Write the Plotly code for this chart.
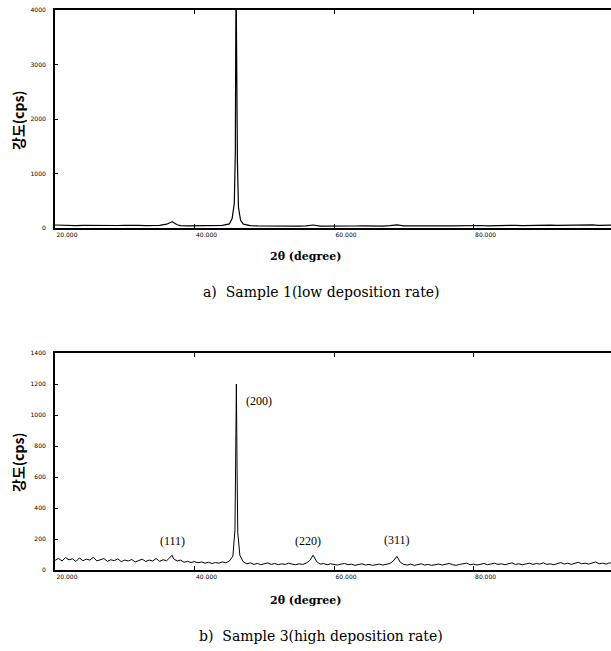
import plotly.graph_objects as go
from plotly.subplots import make_subplots

# ---------------- data ----------------
x_tick_vals = [20, 40, 60, 80]
x_tick_text = ["20.000", "40.000", "60.000", "80.000"]
y1_tick_vals = [0, 1000, 2000, 3000, 4000]
y2_tick_vals = [0, 200, 400, 600, 800, 1000, 1200, 1400]

# Sample 1 (low deposition rate)
s1_2theta = [20, 21, 22, 23, 24, 25, 26, 27, 28, 29, 30, 31, 32, 33, 34, 35, 36, 36.8, 37.5,
             38, 39, 40, 41, 42, 43, 44, 45, 45.4, 45.7, 45.85, 45.95, 46.05, 46.15, 46.3, 46.6,
             47, 48, 49, 50, 51, 52, 53, 54, 55, 56, 57, 58, 59, 60, 61, 62, 63, 64, 65, 66,
             67, 68, 69, 70, 71, 72, 73, 74, 75, 76, 77, 78, 79, 80, 81, 82, 83, 84, 85, 86,
             87, 88, 89, 90, 91, 92, 93, 94, 95, 96, 97, 98, 99, 100]
s1_cps = [55, 48, 52, 45, 50, 47, 52, 44, 50, 46, 48, 42, 47, 44, 46, 50, 70, 115, 60,
          45, 40, 42, 38, 40, 42, 48, 75, 180, 450, 1400, 4700, 2400, 1200, 380, 140,
          70, 45, 38, 36, 40, 35, 38, 34, 36, 38, 55, 36, 34, 36, 38, 35, 37, 40, 36, 38,
          35, 42, 58, 40, 38, 35, 40, 38, 42, 38, 40, 44, 40, 42, 46, 40, 44, 42, 46, 50,
          44, 48, 46, 50, 54, 48, 52, 50, 55, 52, 56, 50, 54, 52]

# Sample 3 (high deposition rate)
s3_2theta = [20.0, 20.5, 21.0, 21.5, 22.0, 22.5, 23.0, 23.5, 24.0, 24.5, 25.0, 25.5, 26.0, 26.5,
             27.0, 27.5, 28.0, 28.5, 29.0, 29.5, 30.0, 30.5, 31.0, 31.5, 32.0, 32.5, 33.0, 33.5,
             34.0, 34.5, 35.0, 35.5, 36.0, 36.5, 36.8, 37.0, 37.5, 38.0, 38.5, 39.0, 39.5, 40.0,
             40.5, 41.0, 41.5, 42.0, 42.5, 43.0, 43.5, 44.0, 44.5, 45.0, 45.5, 45.8, 45.9, 46.0,
             46.1, 46.2, 46.5, 47.0, 47.5, 48.0, 48.5, 49.0, 49.5, 50.0, 50.5, 51.0, 51.5, 52.0,
             52.5, 53.0, 53.5, 54.0, 54.5, 55.0, 55.5, 56.0, 56.5, 57.0, 57.5, 58.0, 58.5, 59.0,
             59.5, 60.0, 60.5, 61.0, 61.5, 62.0, 62.5, 63.0, 63.5, 64.0, 64.5, 65.0, 65.5, 66.0,
             66.5, 67.0, 67.5, 68.0, 68.5, 69.0, 69.5, 70.0, 70.5, 71.0, 71.5, 72.0, 72.5, 73.0,
             73.5, 74.0, 74.5, 75.0, 75.5, 76.0, 76.5, 77.0, 77.5, 78.0, 78.5, 79.0, 79.5, 80.0,
             80.5, 81.0, 81.5, 82.0, 82.5, 83.0, 83.5, 84.0, 84.5, 85.0, 85.5, 86.0, 86.5, 87.0,
             87.5, 88.0, 88.5, 89.0, 89.5, 90.0, 90.5, 91.0, 91.5, 92.0, 92.5, 93.0, 93.5, 94.0,
             94.5, 95.0, 95.5, 96.0, 96.5, 97.0, 97.5, 98.0, 98.5, 99.0, 99.5, 100.0]
s3_cps = [62, 75, 58, 80, 66, 72, 55, 78, 60, 70, 64, 82, 58, 68,
          74, 56, 66, 60, 72, 54, 64, 58, 68, 52, 62, 70, 55, 64,
          58, 74, 56, 66, 60, 82, 95, 72, 58, 64, 50, 56, 48, 54,
          46, 52, 44, 50, 42, 48, 44, 52, 46, 58, 90, 260, 720, 1200,
          640, 240, 95, 52, 40, 46, 36, 42, 34, 40, 46, 36, 42, 34,
          40, 36, 44, 38, 34, 40, 36, 44, 60, 95, 55, 38, 42, 34,
          40, 36, 32, 38, 42, 34, 38, 30, 36, 40, 32, 36, 30, 34,
          38, 32, 36, 42, 58, 88, 50, 36, 32, 38, 30, 34, 40, 32,
          36, 30, 34, 38, 32, 36, 42, 34, 30, 36, 40, 44, 34, 38,
          32, 36, 42, 34, 38, 44, 36, 40, 34, 38, 46, 36, 40, 34,
          38, 44, 36, 42, 38, 46, 36, 40, 34, 42, 48, 38, 44, 36,
          42, 50, 40, 44, 38, 46, 52, 40, 44, 38, 46, 42]

peak_labels = ["(111)", "(200)", "(220)", "(311)"]
peak_label_x = [36.8, 49.3, 56.3, 69.0]
peak_label_y = [185, 1090, 185, 195]

# ---------------- figure ----------------
fig = make_subplots(rows=2, cols=1)

fig.add_trace(go.Scatter(x=s1_2theta, y=s1_cps, mode="lines",
                         line=dict(color="black", width=1.2), showlegend=False), row=1, col=1)
fig.add_trace(go.Scatter(x=s3_2theta, y=s3_cps, mode="lines",
                         line=dict(color="black", width=1), showlegend=False), row=2, col=1)

xcommon = dict(range=[20, 99.7], tickvals=x_tick_vals, ticktext=x_tick_text,
               ticks="inside", ticklen=4, tickcolor="black", showline=True,
               linecolor="black", linewidth=2, mirror="ticks", showgrid=False,
               zeroline=False, ticklabelposition="outside right",
               tickfont=dict(family="DejaVu Sans", size=6, color="black"))
ycommon = dict(ticks="inside", ticklen=3, tickcolor="black", showline=True,
               linecolor="black", linewidth=2, mirror=False, showgrid=False,
               zeroline=False, ticklabelstandoff=6,
               tickfont=dict(family="DejaVu Sans", size=6, color="black"))

fig.update_layout(
    width=611, height=651,
    margin=dict(l=55, r=0, t=10, b=81),
    paper_bgcolor="white", plot_bgcolor="white",
    xaxis=dict(domain=[0, 1], anchor="y", **xcommon),
    xaxis2=dict(domain=[0, 1], anchor="y2", **xcommon),
    yaxis=dict(domain=[0.6107, 1], anchor="x", range=[0, 4000], tickvals=y1_tick_vals, **ycommon),
    yaxis2=dict(domain=[0, 0.3875], anchor="x2", range=[0, 1400], tickvals=y2_tick_vals, **ycommon),
)

def px_x(p):
    return (p - 55) / 556.0

def px_y(p):
    return (570 - p) / 560.0

ann = []
# y titles
for cy in (120, 462):
    ann.append(dict(text="<b>강도(cps)</b>", x=px_x(18), y=px_y(cy), xref="paper", yref="paper",
                    xanchor="center", yanchor="middle", showarrow=False, textangle=-90,
                    font=dict(family="Noto Sans CJK KR", size=14, color="black")))
# x titles
for cy in (256, 600):
    ann.append(dict(text="<b>2θ (degree)</b>", x=px_x(305), y=px_y(cy), xref="paper", yref="paper",
                    xanchor="center", yanchor="middle", showarrow=False,
                    font=dict(family="DejaVu Serif", size=11, color="black")))
# captions
ann.append(dict(text="a)  Sample 1(low deposition rate)", x=px_x(321), y=px_y(292),
                xref="paper", yref="paper", xanchor="center", yanchor="middle", showarrow=False,
                font=dict(family="DejaVu Serif", size=14, color="black")))
ann.append(dict(text="b)  Sample 3(high deposition rate)", x=px_x(321), y=px_y(636),
                xref="paper", yref="paper", xanchor="center", yanchor="middle", showarrow=False,
                font=dict(family="DejaVu Serif", size=14, color="black")))
# peak labels
for t, xv, yv in zip(peak_labels, peak_label_x, peak_label_y):
    ann.append(dict(text=t, x=xv, y=yv, xref="x2", yref="y2", showarrow=False,
                    xanchor="center", yanchor="middle",
                    font=dict(family="Liberation Serif", size=12, color="black")))

fig.update_layout(annotations=ann)

fig.write_html("out.html", config={"displayModeBar": False},
               post_script="document.body.style.margin='0px';")
